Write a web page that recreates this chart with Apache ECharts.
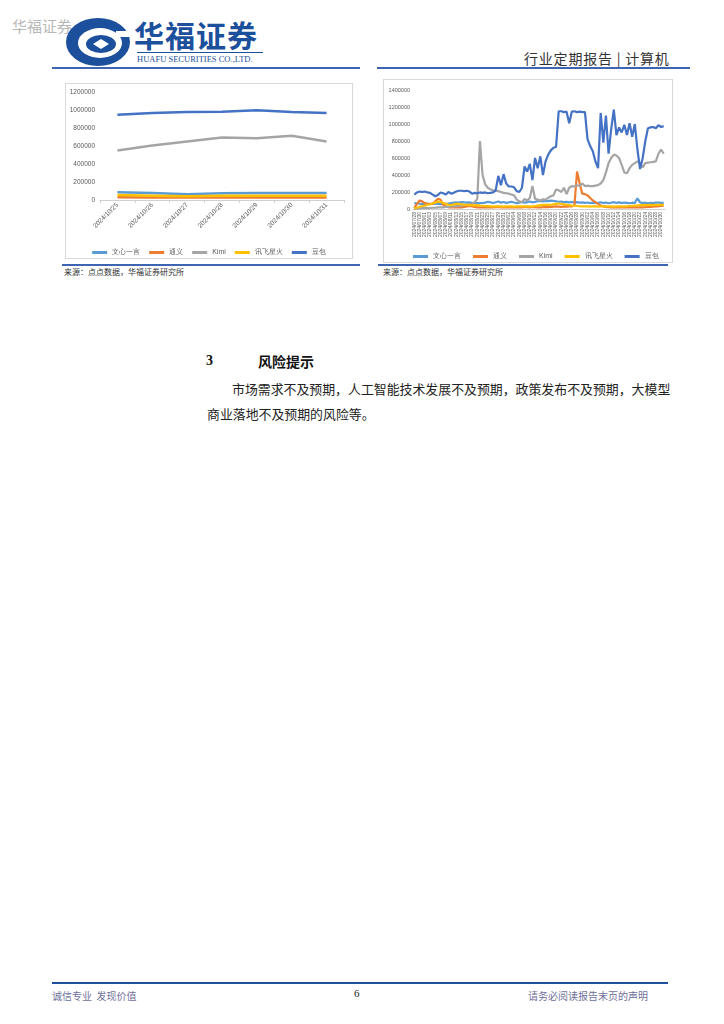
<!DOCTYPE html>
<html><head><meta charset="utf-8">
<script src="https://cdn.jsdelivr.net/npm/echarts@6/dist/echarts.min.js"></script>
<style>
body{margin:0;background:#fff;font-family:"Noto Sans CJK SC","Liberation Sans",sans-serif;}
#page{position:relative;width:724px;height:1024px;overflow:hidden;background:#fff;}
.a{position:absolute;white-space:nowrap;}
.box{position:absolute;border:1px solid #d9d9d9;box-sizing:border-box;}
</style></head><body>
<div id="page">
  <div class="a" style="left:12px;top:16px;font-size:15px;line-height:20px;color:#b8b8b8;">华福证券</div>
  <svg class="a" style="left:64px;top:17px;" width="70" height="52" viewBox="0 0 70 52">
    <ellipse cx="34" cy="25" rx="32" ry="24" fill="#1c4f9c"/>
    <ellipse cx="36" cy="26" rx="22" ry="15" fill="#fff"/>
    <ellipse cx="37" cy="27" rx="15" ry="9" fill="#1c4f9c"/>
    <path d="M37 22 L45 27 L37 32 L29 27 Z" fill="#fff"/>
    <rect x="52" y="14" width="14" height="6" fill="#fff"/>
  </svg>
  <div class="a" style="left:134px;top:19px;font-size:30px;line-height:30px;font-weight:bold;color:#1c4f9c;letter-spacing:1px;">华福证券</div>
  <div class="a" style="left:137px;top:52px;width:126px;height:1px;background:#1c4f9c;"></div>
  <div class="a" style="left:137px;top:54px;font-size:8.5px;line-height:10px;color:#1c4f9c;font-family:'Liberation Serif',serif;">HUAFU SECURITIES CO.,LTD.</div>
  <div class="a" style="left:524px;top:48px;font-size:14px;line-height:20px;color:#333;letter-spacing:0.8px;">行业定期报告&nbsp;|&nbsp;计算机</div>
  <div class="a" style="left:52px;top:67px;width:308px;height:2px;background:#3d65b0;"></div>
  <div class="a" style="left:377px;top:67px;width:313px;height:2px;background:#3d65b0;"></div>

  <div class="box" id="c1" style="left:65px;top:83px;width:288px;height:176px;"></div>
  <div class="box" id="c2" style="left:383px;top:79px;width:290px;height:184px;"></div>

  <div class="a" style="left:62px;top:264px;width:298px;height:1.5px;background:#3d65b0;"></div>
  <div class="a" style="left:378px;top:264px;width:290px;height:1.5px;background:#3d65b0;"></div>
  <div class="a" style="left:64px;top:266px;font-size:8px;color:#333;">来源：点点数据，华福证券研究所</div>
  <div class="a" style="left:383px;top:266px;font-size:8px;color:#333;">来源：点点数据，华福证券研究所</div>

  <div class="a" style="left:206px;top:353px;font-size:14px;font-weight:bold;color:#111;font-family:'Liberation Serif',serif;">3</div>
  <div class="a" style="left:258px;top:351px;font-size:14px;font-weight:bold;color:#111;">风险提示</div>
  <div class="a" style="left:232px;top:379px;font-size:12.9px;color:#222;">市场需求不及预期，人工智能技术发展不及预期，政策发布不及预期，大模型</div>
  <div class="a" style="left:207px;top:404px;font-size:12.9px;color:#222;">商业落地不及预期的风险等。</div>

  <div class="a" style="left:52px;top:982px;width:616px;height:2px;background:#1c4f9c;"></div>
  <div class="a" style="left:52px;top:988px;font-size:10px;color:#6f6f9a;">诚信专业&nbsp;&nbsp;发现价值</div>
  <div class="a" style="left:354px;top:987px;font-size:11px;color:#222;font-family:'Liberation Serif',serif;">6</div>
  <div class="a" style="left:528px;top:988px;font-size:10px;color:#6f6f9a;">请务必阅读报告末页的声明</div>
</div>
<script>
// ---------- data ----------
var seriesNames = ['文心一言','通义','Kimi','讯飞星火','豆包'];
var colors = ['#5B9BD5','#ED7D31','#A5A5A5','#FFC000','#4472C4'];

// left chart
var leftDates = ['2024/10/25','2024/10/26','2024/10/27','2024/10/28','2024/10/29','2024/10/30','2024/10/31'];
var leftWenxin = [85000,78000,65000,75000,78000,78000,78000];
var leftTongyi = [30000,28000,27000,28000,28000,28000,28000];
var leftKimi   = [550000,605000,650000,695000,687000,713000,650000];
var leftXunfei = [55000,48000,42000,46000,47000,47000,47000];
var leftDoubao = [947000,966000,977000,981000,996000,977000,966000];
var leftYTicks = [0,200000,400000,600000,800000,1000000,1200000];

// right chart
var rightDates = ['2024/07/28','2024/07/29','2024/07/30','2024/07/31',
'2024/08/01','2024/08/02','2024/08/03','2024/08/04','2024/08/05','2024/08/06','2024/08/07','2024/08/08','2024/08/09','2024/08/10',
'2024/08/11','2024/08/12','2024/08/13','2024/08/14','2024/08/15','2024/08/16','2024/08/17','2024/08/18','2024/08/19','2024/08/20',
'2024/08/21','2024/08/22','2024/08/23','2024/08/24','2024/08/25','2024/08/26','2024/08/27','2024/08/28','2024/08/29','2024/08/30','2024/08/31',
'2024/09/01','2024/09/02','2024/09/03','2024/09/04','2024/09/05','2024/09/06','2024/09/07','2024/09/08','2024/09/09','2024/09/10',
'2024/09/11','2024/09/12','2024/09/13','2024/09/14','2024/09/15','2024/09/16','2024/09/17','2024/09/18','2024/09/19','2024/09/20',
'2024/09/21','2024/09/22','2024/09/23','2024/09/24','2024/09/25','2024/09/26','2024/09/27','2024/09/28','2024/09/29','2024/09/30',
'2024/10/01','2024/10/02','2024/10/03','2024/10/04','2024/10/05','2024/10/06','2024/10/07','2024/10/08','2024/10/09','2024/10/10',
'2024/10/11','2024/10/12','2024/10/13','2024/10/14','2024/10/15','2024/10/16','2024/10/17','2024/10/18','2024/10/19','2024/10/20',
'2024/10/21','2024/10/22','2024/10/23','2024/10/24','2024/10/25','2024/10/26','2024/10/27','2024/10/28','2024/10/29','2024/10/30','2024/10/31'];
var rightWenxin = [70000,65000,62000,60000,62000,60000,58000,60000,62000,60000,
58000,60000,62000,65000,70000,75000,78000,75000,80000,78000,
75000,78000,72000,70000,68000,70000,72000,75000,85000,78000,
70000,80000,88000,75000,82000,72000,78000,85000,76000,70000,
74000,82000,75000,80000,88000,78000,84000,92000,95000,90000,
96000,92000,98000,95000,90000,85000,88000,80000,84000,78000,
82000,76000,80000,74000,78000,72000,76000,70000,74000,68000,
72000,80000,70000,76000,68000,74000,80000,72000,78000,70000,
76000,72000,68000,74000,70000,125000,78000,70000,74000,68000,
72000,70000,76000,74000,72000,72000];
var rightTongyi = [10000,60000,100000,90000,70000,60000,60000,60000,90000,120000,
110000,50000,30000,20000,20000,18000,20000,22000,20000,25000,
30000,35000,30000,25000,20000,20000,18000,20000,22000,20000,
20000,22000,25000,20000,20000,22000,20000,18000,20000,22000,
20000,20000,25000,22000,20000,25000,22000,20000,20000,22000,
25000,22000,25000,28000,30000,28000,25000,30000,28000,30000,
30000,45000,440000,300000,180000,175000,160000,130000,100000,80000,
60000,40000,30000,25000,22000,20000,20000,18000,20000,22000,
20000,18000,20000,20000,22000,20000,18000,20000,22000,25000,
25000,28000,30000,32000,35000,38000];
var rightKimi = [5000,5000,8000,10000,10000,10000,12000,15000,15000,20000,
20000,20000,25000,25000,30000,30000,35000,35000,40000,45000,
50000,60000,60000,80000,120000,800000,400000,290000,250000,230000,
220000,215000,210000,200000,190000,185000,180000,170000,160000,110000,
90000,80000,120000,100000,130000,270000,120000,110000,100000,115000,
110000,130000,150000,160000,230000,220000,200000,250000,175000,250000,
270000,265000,280000,270000,300000,270000,275000,270000,270000,275000,
280000,300000,340000,430000,540000,600000,640000,630000,600000,520000,
430000,420000,480000,520000,540000,560000,545000,490000,540000,545000,
550000,555000,560000,650000,700000,650000];
var rightXunfei = [8000,15000,25000,35000,40000,50000,55000,65000,75000,85000,
85000,70000,60000,50000,45000,55000,60000,60000,55000,50000,
48000,45000,45000,42000,45000,40000,38000,35000,35000,32000,
30000,32000,30000,30000,28000,30000,32000,30000,28000,30000,
30000,32000,30000,30000,32000,30000,35000,40000,45000,48000,
50000,48000,50000,55000,60000,65000,62000,55000,50000,45000,
40000,38000,35000,32000,30000,30000,30000,28000,30000,30000,
28000,30000,30000,32000,30000,30000,28000,30000,32000,30000,
30000,32000,35000,38000,40000,42000,45000,45000,48000,45000,
48000,46000,48000,50000,48000,50000];
var rightDoubao = [170000,195000,205000,200000,205000,195000,190000,170000,150000,165000,
195000,185000,170000,200000,180000,190000,205000,215000,215000,210000,
215000,205000,180000,190000,185000,195000,190000,195000,185000,190000,
195000,220000,390000,280000,410000,300000,265000,265000,255000,210000,
200000,250000,500000,440000,530000,340000,600000,480000,620000,400000,
560000,640000,690000,720000,730000,1150000,1150000,1140000,1145000,1010000,
1145000,1150000,1140000,1145000,1140000,1140000,820000,740000,680000,560000,
480000,1130000,780000,1100000,650000,940000,1170000,870000,960000,900000,
990000,870000,1010000,850000,1000000,700000,470000,600000,800000,950000,
960000,965000,950000,985000,965000,975000];
var rightYTicks = [0,200000,400000,600000,800000,1000000,1200000,1400000];

// ---------- charts ----------
var labelFont = '"Liberation Sans","Noto Sans CJK SC",sans-serif';
function plain(v){ return String(v); }
function makeSeries(names, datas, width){
  return names.map(function(n,i){
    return {name:n,type:'line',data:datas[i],symbol:'none',smooth:false,
      lineStyle:{color:colors[i],width:width},itemStyle:{color:colors[i]}};
  });
}

var c1 = echarts.init(document.getElementById('c1'));
c1.setOption({
  animation:false,
  grid:{left:34,top:8,width:244,height:108},
  xAxis:{type:'category',data:leftDates,boundaryGap:true,
    axisLine:{lineStyle:{color:'#d0d0d0'}},
    axisTick:{show:true,length:3,lineStyle:{color:'#d0d0d0'}},
    axisLabel:{rotate:45,fontSize:6.5,color:'#595959',margin:4,fontFamily:labelFont}},
  yAxis:{type:'value',min:leftYTicks[0],max:leftYTicks[leftYTicks.length-1],interval:200000,
    axisLine:{show:false},axisTick:{show:false},splitLine:{show:false},
    axisLabel:{fontSize:6.5,color:'#595959',margin:5,fontFamily:labelFont,formatter:plain}},
  legend:{top:160,left:'center',itemWidth:15,itemHeight:3,itemGap:9,icon:'rect',
    textStyle:{fontSize:7,color:'#595959'},data:seriesNames},
  series:makeSeries(seriesNames,[leftWenxin,leftTongyi,leftKimi,leftXunfei,leftDoubao],2.5)
});

var c2 = echarts.init(document.getElementById('c2'));
c2.setOption({
  animation:false,
  grid:{left:29,top:10,width:252,height:119},
  xAxis:{type:'category',data:rightDates,boundaryGap:true,
    axisLine:{lineStyle:{color:'#d0d0d0'}},
    axisTick:{show:false},
    axisLabel:{rotate:90,interval:1,fontSize:5,color:'#595959',margin:3,fontFamily:labelFont}},
  yAxis:{type:'value',min:rightYTicks[0],max:rightYTicks[rightYTicks.length-1],interval:200000,
    axisLine:{show:false},axisTick:{show:false},splitLine:{show:false},
    axisLabel:{fontSize:5.5,color:'#595959',margin:3,fontFamily:labelFont,formatter:plain}},
  legend:{top:168,left:24,itemWidth:15,itemHeight:3,itemGap:12,icon:'rect',
    textStyle:{fontSize:7,color:'#595959'},data:seriesNames},
  series:makeSeries(seriesNames,[rightWenxin,rightTongyi,rightKimi,rightXunfei,rightDoubao],2.2)
});
</script>
</body></html>
